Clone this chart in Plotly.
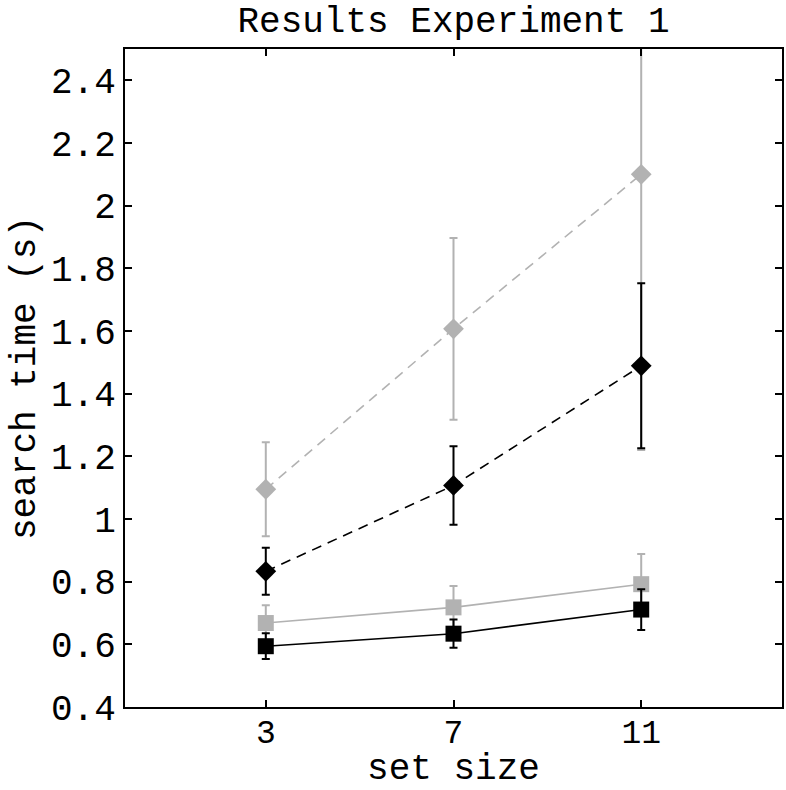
import plotly.graph_objects as go

# ---- data ----
set_sizes = [3, 7, 11]

gray_diamond_y = [1.095, 1.607, 2.100]
gray_diamond_err = [0.150, 0.290, 0.880]

black_diamond_y = [0.833, 1.107, 1.489]
black_diamond_err = [0.075, 0.125, 0.263]

gray_square_y = [0.668, 0.718, 0.792]
gray_square_err = [0.057, 0.068, 0.096]

black_square_y = [0.594, 0.634, 0.711]
black_square_err = [0.041, 0.045, 0.065]

y_tickvals = [0.4, 0.6, 0.8, 1.0, 1.2, 1.4, 1.6, 1.8, 2.0, 2.2, 2.4]
y_ticktext = ["0.4", "0.6", "0.8", "1", "1.2", "1.4", "1.6", "1.8", "2", "2.2", "2.4"]
x_tickvals = [3, 7, 11]
x_ticktext = ["3", "7", "11"]

GRAY = "rgb(178,178,178)"
BLACK = "black"
FONT = "Liberation Mono, Courier New, monospace"

fig = go.Figure()

def add(y, err, color, symbol, size, dash):
    fig.add_trace(go.Scatter(
        x=set_sizes, y=y, mode="lines+markers",
        line=dict(color=color, width=1.6, dash=dash),
        marker=dict(symbol=symbol, size=size, color=color, line=dict(width=0)),
        error_y=dict(type="data", array=err, visible=True, color=color,
                     thickness=2, width=4),
        showlegend=False, cliponaxis=True,
    ))

add(gray_diamond_y, gray_diamond_err, GRAY, "diamond", 16, "10px,7px")
add(gray_square_y, gray_square_err, GRAY, "square", 16, "solid")
add(black_diamond_y, black_diamond_err, BLACK, "diamond", 16, "10px,7px")
add(black_square_y, black_square_err, BLACK, "square", 16, "solid")

axis_common = dict(
    showline=True, linecolor="black", linewidth=2, mirror="allticks",
    ticks="inside", ticklen=7, tickwidth=1.5, tickcolor="black",
    showgrid=False, zeroline=False, automargin=False,
)

fig.update_layout(
    width=786, height=790,
    margin=dict(l=125, r=4, t=49, b=83, autoexpand=False),
    paper_bgcolor="white", plot_bgcolor="white",
    title=dict(text="Results Experiment 1", x=0.5, xref="paper",
               y=1 - 19 / 790, yref="container", yanchor="middle",
               font=dict(family=FONT, size=36, color="black")),
    xaxis=dict(range=[0, 14], tickvals=x_tickvals, ticktext=x_ticktext,
               ticklabelstandoff=-6,
               tickfont=dict(family=FONT, size=33, color="black"),
               title=dict(text="set size", standoff=14,
                          font=dict(family=FONT, size=36, color="black")),
               **axis_common),
    yaxis=dict(range=[0.4, 2.5], tickvals=y_tickvals, ticktext=y_ticktext,
               ticklabelstandoff=0,
               tickfont=dict(family=FONT, size=36, color="black"),
               title=dict(text="search time (s)", standoff=4,
                          font=dict(family=FONT, size=36, color="black")),
               **axis_common),
)

fig.write_html(
    "out.html",
    config={"displayModeBar": False},
    post_script="document.body.style.margin='0';document.body.style.overflow='hidden';",
)
